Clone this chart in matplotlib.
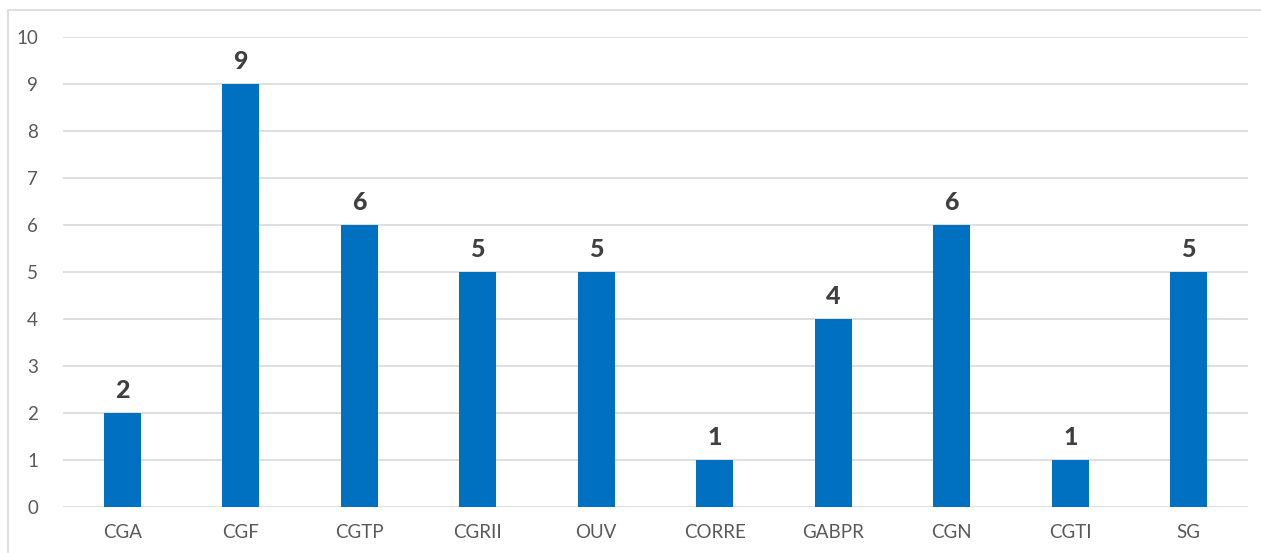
import matplotlib.pyplot as plt
from matplotlib.patches import Rectangle

# counts per department
departements = ['CGA', 'CGF', 'CGTP', 'CGRII', 'OUV', 'CORRE', 'GABPR', 'CGN', 'CGTI', 'SG']
effectifs = [2, 9, 6, 5, 5, 1, 4, 6, 1, 5]

plt.rcParams['font.family'] = ['Lato', 'DejaVu Sans']

fig = plt.figure(figsize=(12.61, 5.53), dpi=100)
ax = fig.add_axes([0.05, 0.0832, 0.9397, 0.85])

x = range(len(departements))
bars = ax.bar(x, effectifs, width=0.31, color='#0070C0', zorder=3)

# value labels on top of bars
for b, v in zip(bars, effectifs):
    ax.text(b.get_x() + b.get_width() / 2, v + 0.24, str(v), ha='center', va='bottom',
            fontsize=18, fontweight='black', color='#404040')

ax.set_xlim(-0.5, len(departements) - 0.5)
ax.set_ylim(0, 10)
ax.set_yticks(range(0, 11))
ax.set_xticks(list(x))
ax.set_xticklabels(departements)
ax.grid(axis='y', color='#D9D9D9', linewidth=1.2, zorder=0)
ax.tick_params(axis='both', length=0, labelsize=13.5, colors='#595959')
ax.tick_params(axis='x', pad=12)
ax.tick_params(axis='y', pad=18)
for s in ax.spines.values():
    s.set_visible(False)

# chart area border
fig.patches.append(Rectangle((8 / 1261, -0.1), 1.2, 1 - 10 / 553 + 0.1, transform=fig.transFigure,
                             fill=False, edgecolor='#D9D9D9', linewidth=1.2))

fig.savefig('out.png', dpi=100)
